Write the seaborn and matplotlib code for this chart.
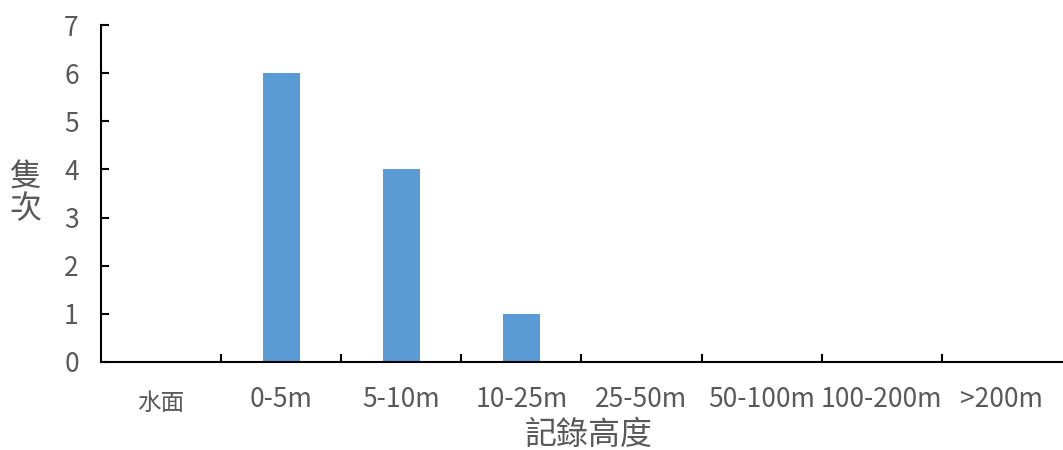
import seaborn as sns
import matplotlib.pyplot as plt
import pandas as pd

# data
heights = ["水面", "0-5m", "5-10m", "10-25m", "25-50m", "50-100m", "100-200m", ">200m"]
counts = [0, 6, 4, 1, 0, 0, 0, 0]
y_ticks = [0, 1, 2, 3, 4, 5, 6, 7]

df = pd.DataFrame({"height": heights, "count": counts})

sns.set_style("white")
plt.rcParams['font.family'] = ['Noto Sans CJK TC', 'DejaVu Sans']

text_color = "#595959"

fig = plt.figure(figsize=(10.63, 4.5), dpi=100)
ax = fig.add_axes([0.095, 0.1956, 0.904, 0.7488])

sns.barplot(data=df, x="height", y="count", color="#5B9BD5", width=0.31,
            saturation=1, linewidth=0, ax=ax)

ax.set_xlim(-0.5, len(heights) - 0.5)
ax.set_ylim(0, 7)
ax.set_yticks(y_ticks)

# spines like Excel: only left and bottom
for side in ["top", "right"]:
    ax.spines[side].set_visible(False)
for side in ["left", "bottom"]:
    ax.spines[side].set_color("black")
    ax.spines[side].set_linewidth(1.5)

# y ticks pointing inwards
ax.tick_params(axis="y", left=True, direction="in", length=6, width=1.5,
               color="black", labelsize=19, labelcolor=text_color, pad=16)

# x labels at centres, tick marks at category borders
ax.set_xticks(range(len(heights)))
ax.set_xticklabels(heights)
ax.tick_params(axis="x", which="major", bottom=True, length=0, labelsize=19,
               labelcolor=text_color, pad=17)
ax.set_xticks([i + 0.5 for i in range(len(heights) - 1)], minor=True)
ax.tick_params(axis="x", which="minor", bottom=True, direction="in",
               length=6, width=1.5, color="black")

# the first label is a bit smaller and lower in the reference
first = ax.get_xticklabels()[0]
first.set_fontsize(17)
first.set_y(-0.02)

ax.set_xlabel("記錄高度", fontsize=23, color=text_color)
ax.xaxis.set_label_coords(0.508, -0.168)
ax.xaxis.label.set_va("top")
ax.set_ylabel("隻\n次", fontsize=23, color=text_color, rotation=0,
              va="center", labelpad=28, linespacing=1.0)

plt.savefig("out.png", dpi=100)
